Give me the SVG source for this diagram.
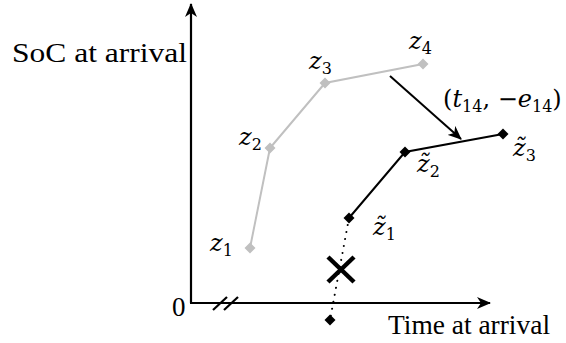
<svg xmlns="http://www.w3.org/2000/svg" width="566" height="343" viewBox="0 0 566 343">
<style>
.lbl{font-family:"Liberation Serif","Times New Roman",serif;font-size:27px;fill:#000}
.m{font-family:"DejaVu Serif",serif;font-style:italic;font-size:24px;fill:#000}
.sub{font-family:"DejaVu Serif",serif;font-style:normal;font-size:16px}
.up{font-family:"DejaVu Serif",serif;font-style:normal}
.ax{stroke:#000;stroke-width:2.2;fill:none}
.gl{stroke:#c0c0c0;stroke-width:2;fill:none}
.bl{stroke:#000;stroke-width:2;fill:none}
.gd{fill:#c0c0c0}
.bd{fill:#000}
</style>
<defs>
<marker id="ah" viewBox="0 0 14 12" refX="13" refY="6" markerWidth="14" markerHeight="12" markerUnits="userSpaceOnUse" orient="auto">
<path d="M0,0 L14,6 L0,12 L4,6 Z" fill="#000"/>
</marker>
<path id="dm" d="M0,-5.5 L5.5,0 L0,5.5 L-5.5,0 Z"/>
</defs>
<g id="axes">
<line class="ax" x1="191" y1="303" x2="191" y2="4" marker-end="url(#ah)"/>
<line class="ax" x1="190" y1="303" x2="490" y2="303" marker-end="url(#ah)"/>
<line class="ax" x1="213" y1="310" x2="227" y2="297"/>
<line class="ax" x1="224" y1="310" x2="238" y2="297"/>
<text class="lbl" x="12" y="62" textLength="175" lengthAdjust="spacingAndGlyphs">SoC at arrival</text>
<text class="lbl" x="388" y="334" textLength="162" lengthAdjust="spacingAndGlyphs">Time at arrival</text>
<text class="lbl" x="172" y="316">0</text>
</g>
<g id="connectors">
<polyline class="gl" points="250,248 270,148 325,83 423,64"/>
<polyline class="bl" points="349,218 405,152 503,134"/>
<line x1="349" y1="218" x2="330" y2="320" stroke="#000" stroke-width="2" stroke-dasharray="0.1 7" stroke-linecap="round"/>
<line class="bl" x1="390" y1="76" x2="461" y2="139" marker-end="url(#ah)"/>
</g>
<g id="z1"><use href="#dm" x="250" y="248" class="gd"/><text class="m" x="210" y="251">z<tspan class="sub" dy="5">1</tspan></text></g>
<g id="z2"><use href="#dm" x="270" y="148" class="gd"/><text class="m" x="239" y="145">z<tspan class="sub" dy="5">2</tspan></text></g>
<g id="z3"><use href="#dm" x="325" y="83" class="gd"/><text class="m" x="309" y="69">z<tspan class="sub" dy="5">3</tspan></text></g>
<g id="z4"><use href="#dm" x="423" y="64" class="gd"/><text class="m" x="409" y="49">z<tspan class="sub" dy="5">4</tspan></text></g>
<g id="zt1"><use href="#dm" x="349" y="218" class="bd"/><text class="m" x="373" y="235">z̃<tspan class="sub" dy="5">1</tspan></text></g>
<g id="zt2"><use href="#dm" x="405" y="152" class="bd"/><text class="m" x="417" y="172">z̃<tspan class="sub" dy="5">2</tspan></text></g>
<g id="zt3"><use href="#dm" x="503" y="134" class="bd"/><text class="m" x="513" y="156">z̃<tspan class="sub" dy="5">3</tspan></text></g>
<g id="bottom"><use href="#dm" x="330" y="320" class="bd"/></g>
<g id="cross">
<line x1="328" y1="257" x2="354" y2="282" stroke="#000" stroke-width="4.5"/>
<line x1="354" y1="257" x2="328" y2="282" stroke="#000" stroke-width="4.5"/>
</g>
<g id="shift-label"><text class="m" x="443" y="107"><tspan class="up">(</tspan>t<tspan class="sub" dy="5">14</tspan><tspan class="up" dy="-5">, −</tspan>e<tspan class="sub" dy="5">14</tspan><tspan class="up" dy="-5">)</tspan></text></g>
</svg>
